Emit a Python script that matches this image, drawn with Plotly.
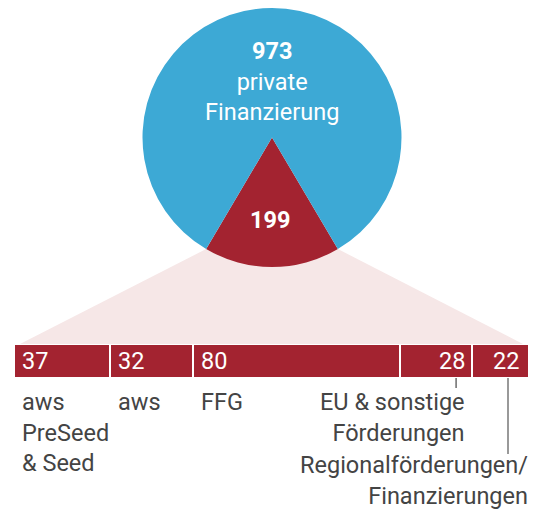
import math
import plotly.graph_objects as go

# data
pie_labels = ["Förderungen", "private Finanzierung"]
pie_values = [199, 973]

seg_values = [37, 32, 80, 28, 22]
seg_labels = [
    "aws<br>PreSeed<br>& Seed",
    "aws",
    "FFG",
    "EU & sonstige<br>Förderungen",
    "Regionalförderungen/<br>Finanzierungen",
]

W, H = 546, 510
BLUE = "#3DA9D5"
RED = "#A32330"
PINK = "#F6E7E7"
GREY = "#444444"
FONT = "Roboto"
FS = 23.5

# geometry in pixels
PIE_CX, PIE_CY, PIE_R = 272, 137.5, 129.5
BAR_X0, BAR_X1 = 14, 529
BAR_TOP, BAR_BOT = 344, 378

total = sum(seg_values)
px_per = (BAR_X1 - BAR_X0) / total


def px_to_x(px):
    return (px - BAR_X0) / px_per


# slice half angle (red slice centred at 6 o'clock)
half = math.pi * pie_values[0] / sum(pie_values)
lx = PIE_CX - PIE_R * math.sin(half)
rx = PIE_CX + PIE_R * math.sin(half)
ey = PIE_CY + PIE_R * math.cos(half)

fig = go.Figure()

# pink fan from the slice down to the bar
inset = 6 / px_per
fig.add_trace(go.Scatter(
    x=[px_to_x(lx), px_to_x(rx), total - inset, inset, px_to_x(lx)],
    y=[ey, ey, BAR_TOP, BAR_TOP, ey],
    mode="lines", fill="toself", fillcolor=PINK,
    line=dict(width=0, color=PINK), hoverinfo="skip", showlegend=False,
))

# stacked bar
bases = [sum(seg_values[:i]) for i in range(len(seg_values))]
fig.add_trace(go.Bar(
    x=seg_values, base=bases, y=[(BAR_TOP + BAR_BOT) / 2] * len(seg_values),
    width=BAR_BOT - BAR_TOP, orientation="h",
    marker=dict(color=RED, line=dict(color="white", width=2)),
    hoverinfo="skip", showlegend=False,
))

# pie
rot = 180 - math.degrees(half)
fig.add_trace(go.Pie(
    labels=pie_labels, values=pie_values, sort=False, direction="clockwise",
    rotation=rot, marker=dict(colors=[RED, BLUE], line=dict(width=0)),
    textinfo="none", hoverinfo="skip", showlegend=False,
    domain=dict(x=[(PIE_CX - PIE_R) / W, (PIE_CX + PIE_R) / W],
                y=[1 - (PIE_CY + PIE_R) / H, 1 - (PIE_CY - PIE_R) / H]),
))

ann = []
ann.append(dict(x=PIE_CX / W, y=1 - 81 / H, xref="paper", yref="paper",
                text="<b>973</b><br>private<br>Finanzierung", showarrow=False,
                font=dict(family=FONT, size=FS, color="white"), xanchor="center", yanchor="middle"))
ann.append(dict(x=(PIE_CX - 2) / W, y=1 - 220 / H, xref="paper", yref="paper",
                text="<b>199</b>", showarrow=False,
                font=dict(family=FONT, size=FS, color="white"), xanchor="center", yanchor="middle"))

ymid = (BAR_TOP + BAR_BOT) / 2
for i, (v, b, lab) in enumerate(zip(seg_values, bases, seg_labels)):
    if i < 3:
        ann.append(dict(x=b, y=ymid, xref="x", yref="y", text=str(v), showarrow=False,
                        xanchor="left", yanchor="middle", xshift=6,
                        font=dict(family=FONT, size=FS, color="white")))
        ann.append(dict(x=b, y=386, xref="x", yref="y", text=lab, showarrow=False,
                        xanchor="left", yanchor="top", xshift=6, align="left",
                        font=dict(family=FONT, size=FS, color=GREY)))
    else:
        ann.append(dict(x=b + v, y=ymid, xref="x", yref="y", text=str(v), showarrow=False,
                        xanchor="right", yanchor="middle", xshift=-5 if i == 3 else -8,
                        font=dict(family=FONT, size=FS, color="white")))

# leader lines
x28 = bases[3] + seg_values[3] - 16 / px_per
x22 = bases[4] + seg_values[4] - 21 / px_per
shapes = [
    dict(type="line", xref="x", yref="y", x0=x28, x1=x28, y0=BAR_BOT, y1=388,
         line=dict(color="#222222", width=1)),
    dict(type="line", xref="x", yref="y", x0=x22, x1=x22, y0=BAR_BOT, y1=454,
         line=dict(color="#777777", width=1.5)),
]
ann.append(dict(x=bases[3] + seg_values[3] - 5 / px_per, y=386, xref="x", yref="y",
                text=seg_labels[3], showarrow=False, xanchor="right", yanchor="top",
                align="right", font=dict(family=FONT, size=FS, color=GREY)))
ann.append(dict(x=total + 1 / px_per, y=449, xref="x", yref="y", text=seg_labels[4],
                showarrow=False, xanchor="right", yanchor="top", align="right",
                font=dict(family=FONT, size=FS, color=GREY)))

fig.update_layout(
    width=W, height=H, margin=dict(l=0, r=0, t=0, b=0),
    paper_bgcolor="white", plot_bgcolor="white",
    xaxis=dict(range=[px_to_x(0), px_to_x(W)], visible=False, fixedrange=True),
    yaxis=dict(range=[H, 0], visible=False, fixedrange=True),
    annotations=ann, shapes=shapes, bargap=0,
)

fig.write_html("out.html", config=dict(displayModeBar=False),
               post_script="document.body.style.margin='0';")
